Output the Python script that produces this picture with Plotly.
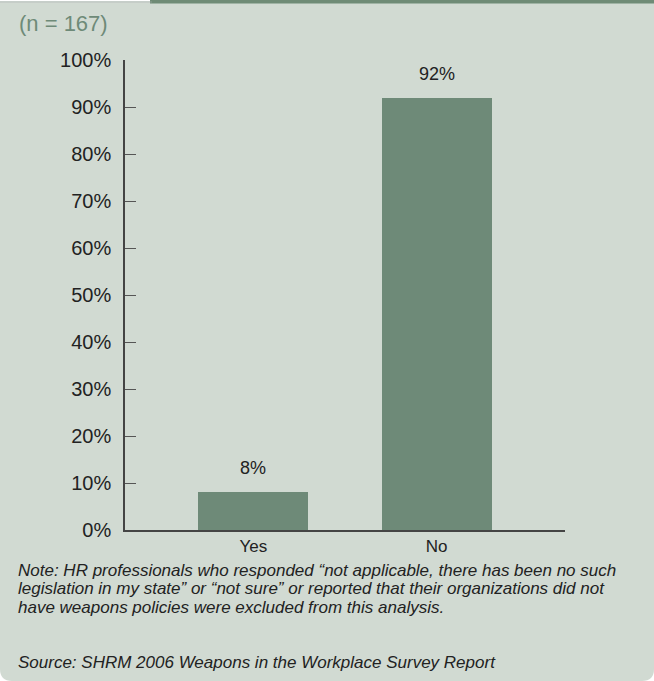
import plotly.graph_objects as go

# Survey responses (share of HR professionals)
categories = ["Yes", "No"]
shares = [8, 92]
y_ticks = [0, 10, 20, 30, 40, 50, 60, 70, 80, 90, 100]
y_tick_labels = [f"{v}%" for v in y_ticks]

sample_label = "(n = 167)"
note_lines = [
    "Note: HR professionals who responded “not applicable, there has been no such",
    "legislation in my state” or “not sure” or reported that their organizations did not",
    "have weapons policies were excluded from this analysis.",
]
source_line = "Source: SHRM 2006 Weapons in the Workplace Survey Report"

W, H = 654, 681
L, R, T, B = 125, 89, 60, 151
PW, PH = W - L - R, H - T - B

BAR = "#6e8a78"
PANEL = "#d1dad2"
TEXT = "#222222"


def px(x):
    return (x - L) / PW


def py(y):
    return (H - B - y) / PH


fig = go.Figure(
    go.Bar(
        x=categories,
        y=shares,
        width=0.6,
        marker=dict(color=BAR, line=dict(width=0)),
        hoverinfo="skip",
    )
)

# value labels above bars
for c, v in zip(categories, shares):
    fig.add_annotation(
        x=c, y=v, text=f"{v}%", showarrow=False, yanchor="bottom",
        yshift=12, font=dict(family="Arial, Liberation Sans", size=18, color=TEXT),
    )

# panel background with rounded bottom corners
r = 12
x0, x1, y0, y1 = px(0), px(W), py(3), py(H)
rx, ry = r / PW, r / PH
panel_path = (
    f"M {x0},{y0} L {x1},{y0} L {x1},{y1 + ry} "
    f"Q {x1},{y1} {x1 - rx},{y1} L {x0 + rx},{y1} "
    f"Q {x0},{y1} {x0},{y1 + ry} Z"
)
fig.add_shape(type="path", path=panel_path, xref="paper", yref="paper",
              fillcolor=PANEL, line=dict(width=0), layer="below")
# header strip and tab edge
fig.add_shape(type="rect", xref="paper", yref="paper",
              x0=px(150), x1=px(W), y0=py(0), y1=py(3.5),
              fillcolor="#6f8b76", line=dict(width=0), layer="below")
fig.add_shape(type="line", xref="paper", yref="paper",
              x0=px(0), x1=px(152), y0=py(2), y1=py(2),
              line=dict(color="#8d9c92", width=1), layer="below")

fig.add_annotation(
    x=px(17), y=py(23), xref="paper", yref="paper", text=sample_label,
    showarrow=False, xanchor="left", yanchor="middle",
    font=dict(family="Arial, Liberation Sans", size=22, color=BAR),
)

note_font = dict(family="Arial, Liberation Sans", size=17, color=TEXT)
for i, line in enumerate(note_lines):
    fig.add_annotation(
        x=px(17), y=py(570 + i * 18.5), xref="paper", yref="paper",
        text=f"<i>{line}</i>", showarrow=False, xanchor="left", yanchor="middle",
        font=note_font, borderpad=0,
    )
fig.add_annotation(
    x=px(17), y=py(662), xref="paper", yref="paper",
    text=f"<i>{source_line}</i>", showarrow=False, xanchor="left", yanchor="middle",
    font=note_font, borderpad=0,
)

fig.update_layout(
    width=W, height=H,
    margin=dict(l=L, r=R, t=T, b=B),
    paper_bgcolor="white",
    plot_bgcolor="rgba(0,0,0,0)",
    showlegend=False,
    bargap=0,
)
fig.update_xaxes(
    range=[-0.7, 1.7], showline=True, linecolor="#444444", linewidth=1.5,
    ticks="", showgrid=False, zeroline=False, ticklabelstandoff=0,
    tickfont=dict(family="Liberation Sans Narrow, Arial Narrow, Arial", size=17, color=TEXT),
)
fig.update_yaxes(
    range=[0, 100], tickvals=y_ticks, ticktext=y_tick_labels,
    showline=True, linecolor="#444444", linewidth=1.5,
    ticks="inside", ticklen=11, tickcolor="#555555", tickwidth=1,
    showgrid=False, zeroline=False, ticklabelstandoff=8,
    tickfont=dict(family="Arial, Liberation Sans", size=20, color=TEXT),
)

fig.write_html("out.html")
